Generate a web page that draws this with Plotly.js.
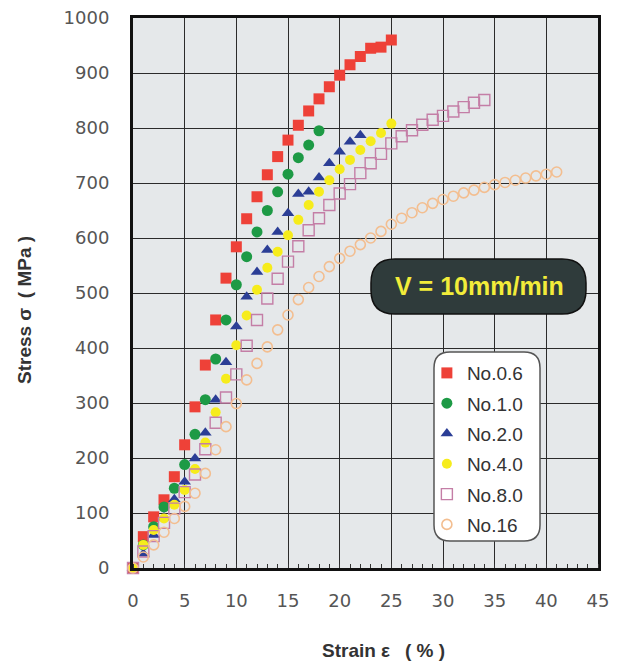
<!DOCTYPE html>
<html>
<head>
<meta charset="utf-8">
<script src="https://cdn.plot.ly/plotly-3.0.1.min.js"></script>
<style>html,body{margin:0;padding:0;background:#fff;}#chart{width:620px;height:666px;}</style>
</head>
<body>
<div id="chart"></div>
<script>
// ---- data ----
var seriesNames = ["No.0.6", "No.1.0", "No.2.0", "No.4.0", "No.8.0", "No.16"];

var strain06 = [0,1,2,3,4,5,6,7,8,9,10,11,12,13,14,15,16,17,18,19,20,21,22,23,24,25];
var stress06 = [0,57,93,124,166,224,293,369,451,527,584,635,675,715,748,778,805,831,853,875,896,915,930,945,947,960];

var strain10 = [0,1,2,3,4,5,6,7,8,9,10,11,12,13,14,15,16,17,18];
var stress10 = [0,42,75,111,145,188,243,306,380,451,515,566,611,650,684,716,746,769,795];

var strain20 = [0,1,2,3,4,5,6,7,8,9,10,11,12,13,14,15,16,17,18,19,20,21,22];
var stress20 = [0,26,60,92,125,157,199,246,306,374,439,493,538,578,611,645,680,684,710,736,757,775,787];

var strain40 = [0,1,2,3,4,5,6,7,8,9,10,11,12,13,14,15,16,17,18,19,20,21,22,23,24,25];
var stress40 = [0,42,69,90,115,142,180,228,283,344,405,459,506,546,575,605,633,660,684,705,725,742,760,776,791,808];

var strain80 = [0,1,2,3,4,5,6,7,8,9,10,11,12,13,14,15,16,17,18,19,20,21,22,23,24,25,26,27,28,29,30,31,32,33,34];
var stress80 = [0,30,58,82,108,138,170,216,264,310,352,404,451,490,526,557,585,614,636,660,681,698,718,736,753,772,785,796,806,815,822,830,838,846,851];

var strain16 = [0,1,2,3,4,5,6,7,8,9,10,11,12,13,14,15,16,17,18,19,20,21,22,23,24,25,26,27,28,29,30,31,32,33,34,35,36,37,38,39,40,41];
var stress16 = [0,20,42,65,90,112,136,172,215,257,299,342,372,402,433,460,488,510,530,548,563,576,588,600,612,625,636,646,655,663,670,676,682,687,692,697,701,705,709,713,716,720];

var xTickVals = [0,5,10,15,20,25,30,35,40,45];
var yTickVals = [0,100,200,300,400,500,600,700,800,900,1000];

var speedLabel = "V = 10mm/min";
var xTitle = "Strain ε\u2002 ( % )";
var yTitle = "Stress σ\u2002( MPa )";

// ---- layout geometry (pixels) ----
var W = 620, H = 666;
var mL = 133, mR = 22, mT = 18, mB = 98;
var plotW = W - mL - mR, plotH = H - mT - mB;
function px(xp, yp) { return ((xp - mL) / plotW).toFixed(4) + "," + ((H - mB - yp) / plotH).toFixed(4); }
function roundRect(x0, y0, x1, y1, r) {
  return "M" + px(x0 + r, y0) + " L" + px(x1 - r, y0) + " Q" + px(x1, y0) + " " + px(x1, y0 + r) +
    " L" + px(x1, y1 - r) + " Q" + px(x1, y1) + " " + px(x1 - r, y1) +
    " L" + px(x0 + r, y1) + " Q" + px(x0, y1) + " " + px(x0, y1 - r) +
    " L" + px(x0, y0 + r) + " Q" + px(x0, y0) + " " + px(x0 + r, y0) + " Z";
}

function mk(name, xs, ys, symbol, color, size, lineColor, lineW, group) {
  return {
    type: "scatter", mode: "markers", name: name, x: xs, y: ys,
    legendgroup: group, cliponaxis: false,
    marker: { symbol: symbol, size: size, color: color, line: { color: lineColor, width: lineW } }
  };
}

var traces = [
  mk(seriesNames[0], strain06, stress06, "square", "#ee4138", 11, "#ee4138", 0, "g1"),
  mk(seriesNames[1], strain10, stress10, "circle", "#1d9a45", 11, "#1d9a45", 0, "g2"),
  mk(seriesNames[2], strain20, stress20, "triangle-up", "#2b3e96", 11, "#2b3e96", 0, "g3"),
  mk(seriesNames[3], strain40, stress40, "circle", "#f6ec1c", 10, "#f6ec1c", 0, "g4"),
  mk(seriesNames[4], strain80, stress80, "square-open", "#c47ea6", 11, "#c47ea6", 1.4, "g5"),
  mk(seriesNames[5], strain16, stress16, "circle-open", "#f3be90", 10, "#f3be90", 1.6, "g6")
];

var tickFont = { family: "DejaVu Sans, Verdana, sans-serif", size: 18, color: "#555555" };
var titleFont = { family: "Liberation Sans, Arial, sans-serif", size: 19, color: "#333333" };

var layout = {
  width: W, height: H,
  margin: { l: mL, r: mR, t: mT, b: mB, pad: 0 },
  paper_bgcolor: "#ffffff",
  plot_bgcolor: "#e5e8ea",
  showlegend: true,
  xaxis: {
    range: [0, 45], tickvals: xTickVals, ticktext: xTickVals.map(String),
    showgrid: true, gridcolor: "#2b2b2b", gridwidth: 1, zeroline: false,
    showline: true, linecolor: "#111111", linewidth: 3, mirror: true,
    ticks: "", tickfont: tickFont, ticklabelstandoff: 14,
    minor: { dtick: 1, ticks: "inside", ticklen: 4, tickcolor: "#333333", showgrid: false },
    fixedrange: true
  },
  yaxis: {
    range: [0, 1000], tickvals: yTickVals, ticktext: yTickVals.map(String),
    showgrid: true, gridcolor: "#2b2b2b", gridwidth: 1, zeroline: false,
    showline: true, linecolor: "#111111", linewidth: 3, mirror: true,
    ticks: "", tickfont: tickFont, ticklabelstandoff: 17,
    fixedrange: true
  },
  legend: {
    x: 0.632, y: 0.389, xanchor: "left", yanchor: "top",
    bgcolor: "rgba(0,0,0,0)", borderwidth: 0,
    font: { family: "Liberation Sans, Arial, sans-serif", size: 19, color: "#333333" },
    traceorder: "grouped", tracegroupgap: 2.6
  },
  shapes: [
    { type: "path", xref: "paper", yref: "paper", layer: "above",
      path: roundRect(434, 352, 540, 541, 16),
      fillcolor: "#ffffff", line: { color: "#555555", width: 1.5 } },
    { type: "path", xref: "paper", yref: "paper", layer: "above",
      path: roundRect(371, 259, 586, 314, 24),
      fillcolor: "#2f3b3b", line: { color: "#111111", width: 1.5 } }
  ],
  annotations: [
    { xref: "paper", yref: "paper", x: (479 - mL) / plotW, y: (H - mB - 286) / plotH,
      text: "<b>" + speedLabel + "</b>", showarrow: false, xanchor: "center", yanchor: "middle",
      font: { family: "Liberation Sans, Arial, sans-serif", size: 25, color: "#f2ec3a" } },
    { xref: "paper", yref: "paper", x: (383 - mL) / plotW, y: (H - mB - 650) / plotH,
      text: "<b>" + xTitle + "</b>", showarrow: false, xanchor: "center", yanchor: "middle",
      font: titleFont },
    { xref: "paper", yref: "paper", x: (24 - mL) / plotW, y: (H - mB - 310) / plotH,
      text: "<b>" + yTitle + "</b>", showarrow: false, xanchor: "center", yanchor: "middle",
      textangle: -90, font: titleFont }
  ]
};

Plotly.newPlot("chart", traces, layout, { displayModeBar: false, staticPlot: true });
</script>
</body>
</html>
